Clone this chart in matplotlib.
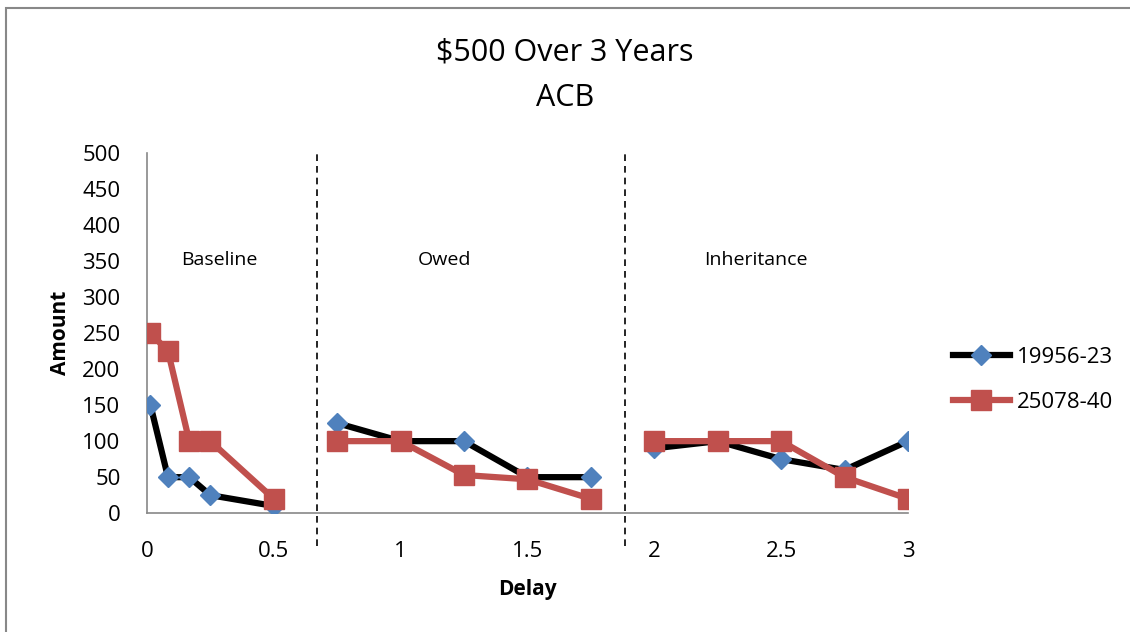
import matplotlib
matplotlib.use("Agg")
import matplotlib.pyplot as plt
from matplotlib.patches import Rectangle

plt.rcParams['font.family'] = ['Open Sans', 'DejaVu Sans']

# delay (years) and amounts, one segment per condition
baseline_x = [0.014, 0.083, 0.167, 0.25, 0.5]
owed_x = [0.75, 1.0, 1.25, 1.5, 1.75]
inherit_x = [2.0, 2.25, 2.5, 2.75, 3.0]

s1_baseline = [150, 50, 50, 25, 10]
s1_owed = [125, 100, 100, 50, 50]
s1_inherit = [90, 100, 75, 60, 100]

s2_baseline = [250, 225, 100, 100, 20]
s2_owed = [100, 100, 53, 47, 20]
s2_inherit = [100, 100, 100, 50, 20]

series_names = ["19956-23", "25078-40"]
section_names = ["Baseline", "Owed", "Inheritance"]
section_pos = [0.285, 1.175, 2.4]
dividers = [0.67, 1.885]

fig = plt.figure(figsize=(11.3, 6.32), dpi=100)
ax = fig.add_axes([0.130, 0.188, 0.6735, 0.570])

xs = [baseline_x, owed_x, inherit_x]
s1 = [s1_baseline, s1_owed, s1_inherit]
s2 = [s2_baseline, s2_owed, s2_inherit]

for i in range(3):
    ax.plot(xs[i], s1[i], color='black', lw=4.5, marker='D', ms=10,
            mfc='#4F81BD', mec='#4F81BD', zorder=3,
            label=series_names[0] if i == 0 else None)
    ax.plot(xs[i], s2[i], color='#C0504D', lw=4.5, marker='s', ms=14,
            mfc='#C0504D', mec='#C0504D', zorder=4,
            label=series_names[1] if i == 0 else None)

for d in dividers:
    ax.plot([d, d], [-0.09, 1.0], transform=ax.get_xaxis_transform(),
            color='black', lw=1.2, ls=(0, (4, 3)), clip_on=False)

for name, p in zip(section_names, section_pos):
    ax.text(p, 352, name, ha='center', va='center', fontsize=14)

ax.set_xlim(0, 3)
ax.set_ylim(0, 500)
ax.set_xticks([0, 0.5, 1, 1.5, 2, 2.5, 3])
ax.set_xticklabels(['0', '0.5', '1', '1.5', '2', '2.5', '3'])
ax.set_yticks(range(0, 501, 50))
ax.tick_params(axis='x', length=0, pad=20, labelsize=16)
ax.tick_params(axis='y', length=0, pad=19, labelsize=16)
for s in ['top', 'right']:
    ax.spines[s].set_visible(False)
for s in ['left', 'bottom']:
    ax.spines[s].set_color('#888888')
    ax.spines[s].set_linewidth(1.2)

ax.set_xlabel('Delay', fontsize=15, fontweight='bold', labelpad=12)
ax.set_ylabel('Amount', fontsize=15, fontweight='bold', labelpad=8)

fig.text(0.5, 0.917, '$500 Over 3 Years', ha='center', va='center', fontsize=22)
fig.text(0.5, 0.845, 'ACB', ha='center', va='center', fontsize=22)

ax.legend(loc='center left', bbox_to_anchor=(0.843, 0.399), bbox_transform=fig.transFigure,
          frameon=False, fontsize=16, handlelength=2.6, handletextpad=0.3,
          labelspacing=1.1, borderaxespad=0, borderpad=0)

fig.patches.append(Rectangle((6 / 1130, -0.1), 1.2, 1 - 8 / 632 + 0.1,
                             transform=fig.transFigure, fill=False,
                             edgecolor='#888888', lw=1.5))

fig.savefig('out.png', dpi=100)
